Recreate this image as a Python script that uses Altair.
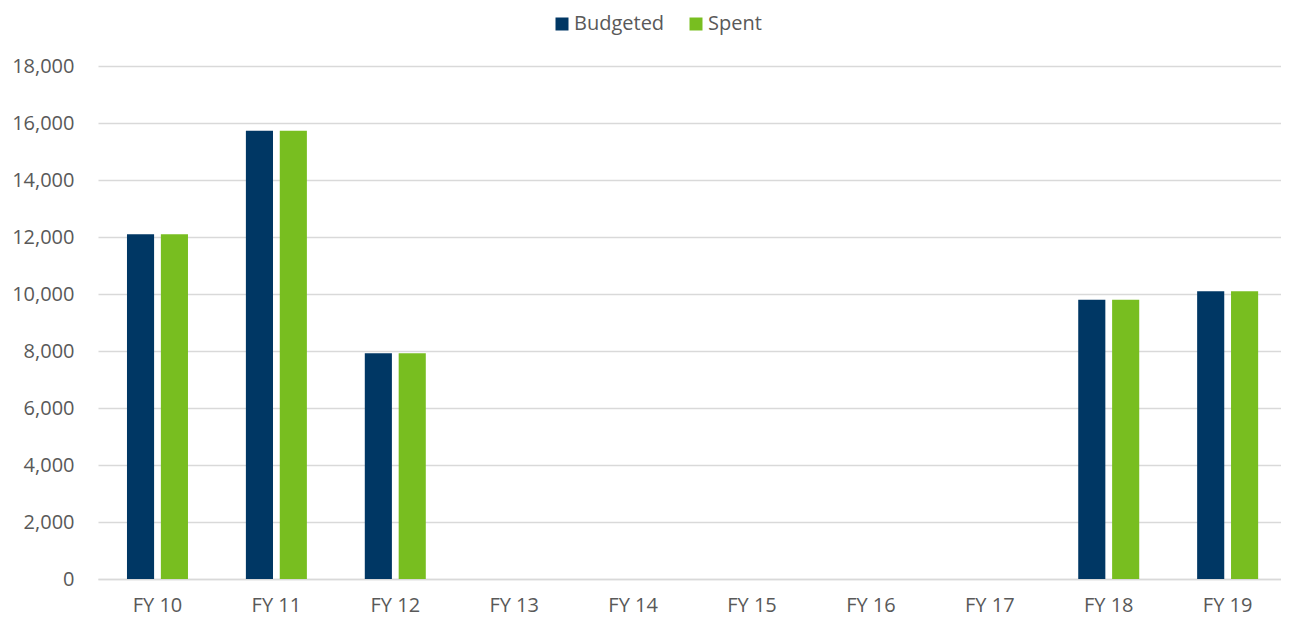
import altair as alt
import pandas as pd

years = ["FY 10", "FY 11", "FY 12", "FY 13", "FY 14", "FY 15", "FY 16", "FY 17", "FY 18", "FY 19"]
budgeted = [12100, 15730, 7920, 0, 0, 0, 0, 0, 9800, 10100]
spent = [12100, 15730, 7920, 0, 0, 0, 0, 0, 9800, 10100]
series = ["Budgeted", "Spent"]
colors = ["#003764", "#78BE20"]

rows = []
for i, y in enumerate(years):
    rows.append({"year": y, "series": "Budgeted", "value": budgeted[i]})
    rows.append({"year": y, "series": "Spent", "value": spent[i]})
df = pd.DataFrame(rows)

FONT = "Open Sans"
GRAY = "#595959"

chart = alt.Chart(df).mark_bar().encode(
    x=alt.X("year:N", sort=years, title=None,
            scale=alt.Scale(paddingInner=0.487, paddingOuter=0.218, align=0.559),
            axis=alt.Axis(labelAngle=0, ticks=False, domain=True, domainColor="#d9d9d9",
                          domainWidth=1.5, labelPadding=16, labelFontSize=20,
                          labelColor=GRAY, labelFont=FONT, grid=False)),
    xOffset=alt.XOffset("series:N", sort=series,
                        scale=alt.Scale(paddingInner=0.2, paddingOuter=0)),
    y=alt.Y("value:Q", title=None,
            scale=alt.Scale(domain=[0, 18000], nice=False),
            axis=alt.Axis(values=list(range(0, 18001, 2000)), format=",d", ticks=False,
                          domain=False, gridColor="#d9d9d9", gridWidth=1.5,
                          labelPadding=24, labelFontSize=20, labelColor=GRAY,
                          labelFont=FONT)),
    color=alt.Color("series:N", sort=series,
                    scale=alt.Scale(domain=series, range=colors),
                    legend=alt.Legend(title=None, orient="none", direction="horizontal",
                                      legendX=454, legendY=-52, symbolType="square",
                                      symbolSize=169, symbolStrokeWidth=0,
                                      labelFontSize=20, labelColor=GRAY, labelFont=FONT,
                                      labelOffset=2, columnPadding=21)),
).properties(
    width=1183, height=513,
    autosize=alt.AutoSizeParams(type="none"),
    padding={"left": 90, "top": 58, "right": 0, "bottom": 37},
).configure_view(stroke=None)

chart.save("out.html", embed_options={"renderer": "svg", "actions": False})
